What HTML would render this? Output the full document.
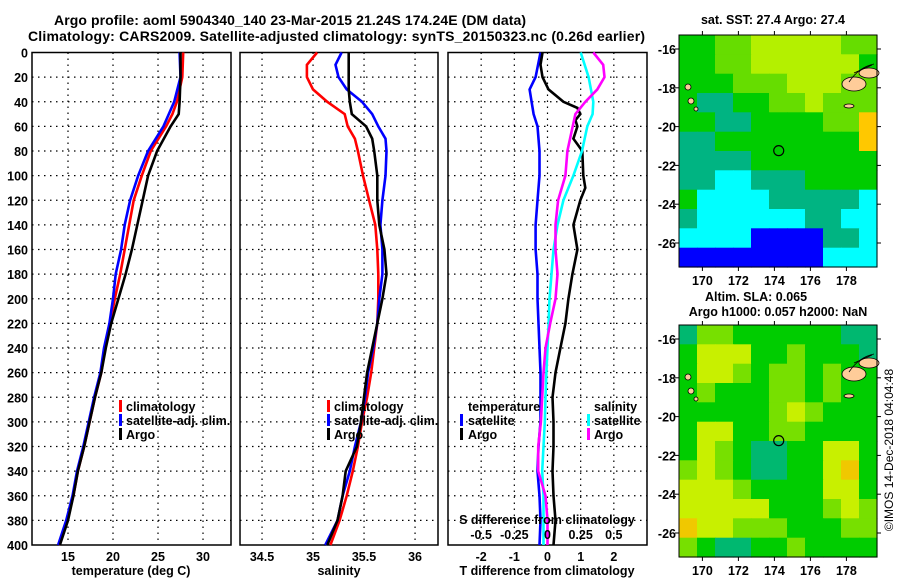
<!DOCTYPE html>
<html><head><meta charset="utf-8"><style>
html,body{margin:0;padding:0;background:#fff}
svg{display:block;font-family:"Liberation Sans",sans-serif;font-weight:bold}
</style></head><body>
<svg id="c" width="900" height="580" viewBox="0 0 900 580" xmlns="http://www.w3.org/2000/svg">
<text x="54" y="25" font-size="14" textLength="472">Argo profile: aoml 5904340_140 23-Mar-2015 21.24S 174.24E (DM data)</text>
<text x="28" y="41" font-size="14" textLength="617">Climatology: CARS2009. Satellite-adjusted climatology: synTS_20150323.nc (0.26d earlier)</text>
<text x="131" y="575" font-size="12.5" text-anchor="middle">temperature (deg C)</text>
<text x="339" y="575" font-size="12.5" text-anchor="middle">salinity</text>
<text x="547" y="575" font-size="12.5" text-anchor="middle">T difference from climatology</text>
<text x="773" y="24" font-size="12.5" text-anchor="middle">sat. SST: 27.4 Argo: 27.4</text>
<text x="756" y="301" font-size="12.5" text-anchor="middle">Altim. SLA: 0.065</text>
<text x="778" y="316" font-size="12.5" text-anchor="middle">Argo h1000: 0.057 h2000: NaN</text>
<text transform="translate(893,450) rotate(-90)" font-size="12" text-anchor="middle" font-weight="normal">©IMOS 14-Dec-2018 04:04:48</text>
<g id="g"></g>
</svg>
<script>
// ---------- data ----------
const tDepths=[0,20,40,50,60,80,100,120,140,160,180,200,220,240,260,280,300,320,340,360,380,400];
const tArgo=[27.5,27.5,27.4,27.3,26.4,24.9,23.9,23.3,22.7,22.1,21.4,20.6,19.8,19.2,18.7,18.0,17.4,16.8,16.1,15.6,15.0,14.1];
const tClim=[27.8,27.7,27.1,26.6,25.9,24.2,23.2,22.3,21.8,21.3,20.8,20.2,19.7,19.1,18.7,18.0,17.4,16.8,16.1,15.6,14.9,14.0];
const tSat=[27.4,27.5,26.8,26.2,25.6,23.9,22.8,21.9,21.3,20.9,20.3,20.0,19.6,19.0,18.6,17.9,17.3,16.7,16.0,15.5,14.8,13.9];
const sDepths=[0,10,20,30,40,50,60,70,80,100,120,140,160,180,200,220,240,260,280,300,320,340,360,380,400];
const sClim=[35.04,34.94,34.94,35.0,35.14,35.31,35.34,35.41,35.44,35.49,35.55,35.61,35.63,35.64,35.64,35.63,35.60,35.57,35.53,35.48,35.44,35.39,35.33,35.26,35.17];
const sSat=[35.28,35.22,35.25,35.33,35.48,35.58,35.64,35.71,35.72,35.71,35.68,35.66,35.68,35.68,35.65,35.63,35.59,35.54,35.51,35.47,35.41,35.36,35.29,35.24,35.12];
const sArgo=[35.35,35.35,35.35,35.35,35.36,35.38,35.52,35.58,35.60,35.63,35.63,35.65,35.70,35.72,35.68,35.63,35.58,35.53,35.50,35.47,35.43,35.32,35.29,35.24,35.14];
const dtSatDepths=[0,20,30,40,50,60,80,100,120,140,160,180,200,220,240,260,280,300,320,340,360,380,400];
const dtSat=[-0.21,-0.36,-0.54,-0.48,-0.42,-0.30,-0.24,-0.24,-0.30,-0.36,-0.36,-0.30,-0.30,-0.27,-0.24,-0.21,-0.21,-0.21,-0.27,-0.30,-0.24,-0.21,-0.24];
const dtArgoDepths=[0,10,20,30,40,45,50,55,60,70,80,100,110,120,140,160,180,200,220,240,260,280,300,320,340,360,380,400];
const dtArgo=[-0.15,-0.21,-0.15,0.03,0.48,0.90,0.99,0.84,0.90,0.78,1.05,1.08,1.14,0.99,0.78,0.90,0.75,0.63,0.54,0.39,0.24,0.15,0.18,0.18,0.15,0.18,0.24,0.18];
const dsArgoDepths=[0,10,20,30,40,50,60,80,100,120,140,160,180,200,220,240,260,280,300,320,340,360,380,400];
const dsArgo=[0.345,0.42,0.43,0.375,0.285,0.21,0.19,0.15,0.135,0.08,0.06,0.06,0.075,0.06,0.02,-0.015,-0.03,-0.04,-0.05,-0.07,-0.07,-0.015,0,0];
const dsSatDepths=[0,20,40,50,60,80,100,120,140,160,180,200,220,240,260,280,300,320,340,360,380,400];
const dsSat=[0.25,0.31,0.345,0.34,0.30,0.26,0.195,0.12,0.075,0.045,0.03,0.015,0.008,0,-0.008,-0.015,-0.02,-0.03,-0.04,-0.03,-0.03,-0.03];
const depthTicks=[0,20,40,60,80,100,120,140,160,180,200,220,240,260,280,300,320,340,360,380,400];
const tTicks=[15,20,25,30];
const sTicks=[34.5,35,35.5,36];
const dtTicks=[-2,-1,0,1,2];
const dsTicks=[-0.5,-0.25,0,0.25,0.5];
const dsTickLabels=["-0.5","-0.25","0","0.25","0.5"];
const latTicks=[-16,-18,-20,-22,-24,-26];
const lonTicks=[170,172,174,176,178];
const sstGrid=["GGLLYYYYYLL","GGLLYYYYYYG","GGGLLLYYYLL","GTTGGLLYLLL","GGTTGGGGLLO","TTGGGGGGGGO","TTTTGGGGGGG","TTCCTTTGGGG","GCCCCTTTTTC","TCCCCCCTTCC","CCCCBBBBTTC","BBBBBBBBCCC"];
const slaGrid=["TLLGGGGGGTT","GYYYGGLGGGT","GYYLGLLGLGG","GLGGGLLGLGG","GGGGGLYLGGG","GYYGGLLGGGG","GYLGTTGGYYG","LYLGTTGGYOG","YYYLGGGGYYG","YYYYYGGGLYL","OYYLLLGGGLL","LGTTGGLGGGG"];
// ---------- helpers ----------
const NS="http://www.w3.org/2000/svg";const G=document.getElementById('g');
function mk(t,a,p){const e=document.createElementNS(NS,t);for(const k in a)e.setAttribute(k,a[k]);(p||G).appendChild(e);return e;}
const Y0=52.5,Y1=545;
const yD=d=>Y0+d*(Y1-Y0)/400;
const P1={x0:32,x1:231,v0:11,v1:33.11};
const P2={x0:240,x1:438,v0:34.284,v1:36.225};
const P3={x0:448,x1:647,v0:-3,v1:3};
const P3s={x0:448,x1:647,v0:-0.75,v1:0.75};
const xs=(P,v)=>P.x0+(v-P.v0)*(P.x1-P.x0)/(P.v1-P.v0);
function dotted(x1,y1,x2,y2){return mk('line',{x1,y1,x2,y2,stroke:'#000','stroke-width':1.2,'stroke-dasharray':'1.5,4.5'});}
function panel(P,ticks,labels,name){
  for(const d of depthTicks.slice(1,-1)){const l=dotted(P.x0,yD(d),P.x1,yD(d));
    
    }
  ticks.forEach((t,i)=>{const x=xs(P,t);const l=dotted(x,Y0,x,Y1);
    
    
    if(labels){const tx=mk('text',{x:x,y:561,'font-size':12.5,'text-anchor':'middle'});tx.textContent=labels[i];
      
      }});
  const r=mk('rect',{x:P.x0,y:Y0,width:P.x1-P.x0,height:Y1-Y0,fill:'none',stroke:'#000','stroke-width':1.5});
  
  
}
function line(P,vals,deps,col,name,w){
  const pts=vals.map((v,i)=>xs(P,v).toFixed(1)+','+yD(deps[i]).toFixed(1)).join(' ');
  const l=mk('polyline',{points:pts,fill:'none',stroke:col,'stroke-width':w||2.6,'stroke-linejoin':'miter'});
  
  
}
function txt(x,y,s,fs,anchor,name,col){const t=mk('text',{x,y,'font-size':fs,'text-anchor':anchor||'start',fill:col||'#000'});t.textContent=s;
  
  return t;}
function legBar(x,y,col,name){const r=mk('rect',{x:x,y:y-10,width:3,height:12,fill:col});
  
  }
// depth labels
for(const d of depthTicks){txt(28,yD(d)+5,String(d),12.5,'end','depth-tick-label');}
// panels
panel(P1,tTicks,tTicks.map(String),'temperature-panel');
panel(P2,sTicks,sTicks.map(String),'salinity-panel');
panel(P3,dtTicks,dtTicks.map(String),'difference-panel');
line(P1,tClim,tDepths,'#ff0000','temperature-climatology-line');
line(P1,tSat,tDepths,'#0000ff','temperature-satellite-line');
line(P1,tArgo,tDepths,'#000','temperature-argo-line');
line(P2,sClim,sDepths,'#ff0000','salinity-climatology-line');
line(P2,sSat,sDepths,'#0000ff','salinity-satellite-line');
line(P2,sArgo,sDepths,'#000','salinity-argo-line');
line(P3,dtSat,dtSatDepths,'#0000ff','t-diff-satellite-line');
line(P3,dtArgo,dtArgoDepths,'#000','t-diff-argo-line');
line(P3s,dsSat,dsSatDepths,'#00ffff','s-diff-satellite-line');
line(P3s,dsArgo,dsArgoDepths,'#ff00ff','s-diff-argo-line');
// legends
[[P1.x0+87],[P2.x0+87]].forEach((a,k)=>{const x=a[0];const nm=k?'salinity':'temperature';
  legBar(x,410,'#ff0000',nm+'-legend-clim-swatch');txt(x+7,411,'climatology',12.5,'start',nm+'-legend-clim');
  legBar(x,424,'#0000ff',nm+'-legend-sat-swatch');txt(x+7,425,'satellite-adj. clim.',12.5,'start',nm+'-legend-sat');
  legBar(x,438,'#000',nm+'-legend-argo-swatch');txt(x+7,439,'Argo',12.5,'start',nm+'-legend-argo');});
txt(468,411,'temperature',12.5,'start','diff-legend-temperature-heading');
legBar(460,424,'#0000ff','diff-legend-t-sat-swatch');txt(468,425,'satellite',12.5,'start','diff-legend-t-sat');
legBar(460,438,'#000','diff-legend-t-argo-swatch');txt(468,439,'Argo',12.5,'start','diff-legend-t-argo');
txt(594,411,'salinity',12.5,'start','diff-legend-salinity-heading');
legBar(587,424,'#00ffff','diff-legend-s-sat-swatch');txt(594,425,'satellite',12.5,'start','diff-legend-s-sat');
legBar(587,438,'#ff00ff','diff-legend-s-argo-swatch');txt(594,439,'Argo',12.5,'start','diff-legend-s-argo');
txt(547,524,'S difference from climatology',12.5,'middle','s-diff-axis-title');
dsTicks.forEach((v,i)=>{txt(xs(P3s,v),539,dsTickLabels[i],12.5,'middle','s-diff-tick-label');});
// ---------- maps ----------
const COL={G:'#00cc00',L:'#66dd00',Y:'#b4f000',T:'#00b482',C:'#00ffff',B:'#0000ff',O:'#ffc800'};
const COL2={G:'#00cc00',L:'#77e000',Y:'#c8f000',T:'#00b870',C:'#00ffff',B:'#0000ff',O:'#f0c800'};
const MX0=679,MX1=877,LON0=168.7,LON1=179.7;
const lonX=v=>MX0+(v-LON0)*(MX1-MX0)/(LON1-LON0);
function map(top,grid,cols,name){
  const h=232,b=top+h,latY=v=>top+14+(-16-v)*19.4;
  const cw=(MX1-MX0)/11,ch=h/12;
  grid.forEach((row,r)=>{for(let c=0;c<row.length;c++){
    const e=mk('rect',{x:(MX0+c*cw).toFixed(1),y:(top+r*ch).toFixed(1),width:(cw+0.6).toFixed(1),height:(ch+0.6).toFixed(1),fill:cols[row[c]]});
    
    }});
  // islands
  const isl=[[854,top+49,12,7],[869,top+38,10,5],[688,top+52,3,3],[691,top+66,3,3],[696,top+74,2,2],[849,top+71,5,2]];
  isl.forEach(a=>{const e=mk('ellipse',{cx:a[0],cy:a[1],rx:a[2],ry:a[3],fill:'#ffcc99',stroke:'#000','stroke-width':0.8});
    
    });
  const pc=mk('path',{d:`M${MX0+170} ${top+47} q10 -15 25 -18 M${MX0+175} ${top+38} l18 -8`,fill:'none',stroke:'#000','stroke-width':0.8});
  
  
  const cir=mk('circle',{cx:lonX(174.24),cy:latY(-21.24),r:5,fill:'none',stroke:'#000','stroke-width':1.2});
  
  
  const fr=mk('rect',{x:MX0,y:top,width:MX1-MX0,height:h,fill:'none',stroke:'#000','stroke-width':1});
  
  
  latTicks.forEach(v=>{const y=latY(v);
    const t1=mk('line',{x1:MX0-4,y1:y,x2:MX0,y2:y,stroke:'#000'});
    
    
    const t2=mk('line',{x1:MX1,y1:y,x2:MX1+4,y2:y,stroke:'#000'});
    
    
    txt(MX0-3,y+5,String(v),12.5,'end',name+'-lat-label');});
  lonTicks.forEach(v=>{const x=lonX(v);
    const t1=mk('line',{x1:x,y1:b,x2:x,y2:b+4,stroke:'#000'});
    
    
    const t2=mk('line',{x1:x,y1:top-4,x2:x,y2:top,stroke:'#000'});
    
    
    txt(x,b+18,String(v),12.5,'middle',name+'-lon-label');});
}
map(35,sstGrid,COL,'sst-map');
map(325,slaGrid,COL2,'sla-map');
</script>
</body></html>
